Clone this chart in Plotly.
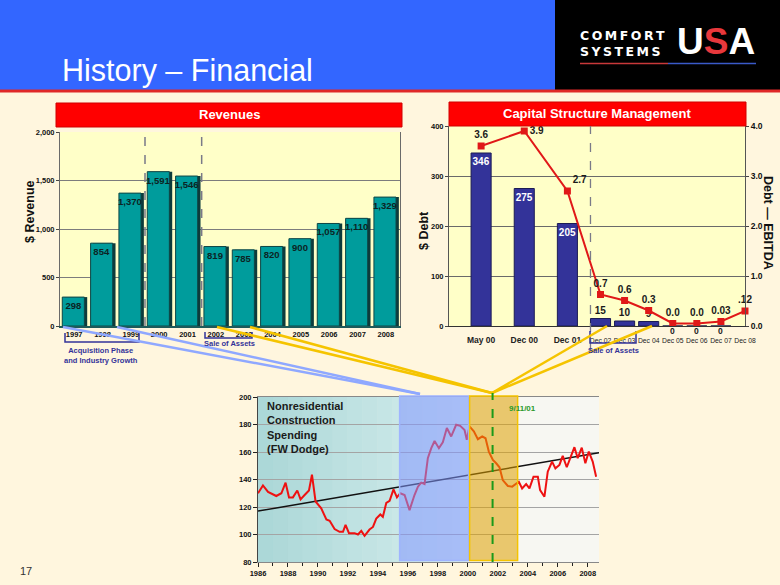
import plotly.graph_objects as go

W, H = 780, 585
def px(x): return x / W
def py(y): return 1 - y / H

FONT = "Liberation Sans, Arial, sans-serif"

# ---------------- data ----------------
rev_years = ['1997', '1998', '1999', '2000', '2001', '2002', '2003', '2004', '2005', '2006', '2007', '2008']
rev_values = [298, 854, 1370, 1591, 1546, 819, 785, 820, 900, 1057, 1110, 1329]

cap_periods = ['May 00', 'Dec 00', 'Dec 01', 'Dec 02', 'Dec 03', 'Dec 04', 'Dec 05', 'Dec 06', 'Dec 07', 'Dec 08']
debt_values = [346, 275, 205, 15, 10, 9, 0, 0, 0, None]
debt_ratio = [3.6, 3.9, 2.7, 0.63, 0.51, 0.31, 0.05, 0.05, 0.09, 0.30]
debt_ratio_labels = ['3.6', '3.9', '2.7', '0.7', '0.6', '0.3', '0.0', '0.0', '0.03', '.12']

cs_years = [1986.00, 1986.33, 1986.67, 1986.89, 1987.22, 1987.56, 1987.84, 1988.07, 1988.33, 1988.62,
            1988.84, 1989.11, 1989.40, 1989.60, 1989.84, 1990.22, 1990.56, 1990.78, 1991.11, 1991.44,
            1991.67, 1991.84, 1992.07, 1992.44, 1992.67, 1992.89, 1993.11, 1993.44, 1993.67, 1993.89,
            1994.16, 1994.33, 1994.56, 1994.78, 1995.04, 1995.27, 1995.49, 1995.78, 1996.11, 1996.44,
            1996.67, 1996.89, 1997.11, 1997.33, 1997.56, 1997.78, 1998.07, 1998.33, 1998.60, 1998.89,
            1999.22, 1999.49, 1999.78, 1999.93, 2000.11, 2000.40, 2000.67, 2000.96, 2001.18, 2001.40,
            2001.67, 2001.89, 2002.11, 2002.33, 2002.67, 2002.96, 2003.22, 2003.40, 2003.62, 2003.89,
            2004.11, 2004.38, 2004.67, 2004.82, 2005.11, 2005.33, 2005.62, 2005.84, 2006.11, 2006.33,
            2006.60, 2006.82, 2007.11, 2007.33, 2007.60, 2007.84, 2008.07, 2008.33, 2008.56]
cs_values = [130, 135.7, 131, 130, 128, 130, 137.7, 127, 127, 132,
             125.5, 128.7, 132, 143.5, 124, 119, 111, 110, 104, 102,
             102, 107, 101, 101, 100, 102.6, 99, 103.6, 105.5, 111.6,
             114.6, 112.9, 123, 124.5, 132.8, 127, 130, 128.7, 117.7, 128.7,
             134.8, 137.7, 136.7, 155.5, 162.8, 168, 162.8, 167, 177.4, 171.3,
             179.8, 179, 176, 168.8, 178.6, 175, 169.3, 171.3, 170, 160.3,
             154.2, 151.8, 148.9, 139.6, 135.3, 134.8, 137.2, 138.4, 133.5, 136.7,
             133.5, 142, 142, 132.3, 127.5, 145.7, 153, 148.1, 150.6, 157.2,
             148.9, 155.5, 163.5, 155.5, 163.2, 151.8, 160.3, 153, 142]
trend_years = [1986, 2008.75]
trend_values = [117, 159.5]

rev_ticks = [0, 500, 1000, 1500, 2000]
debt_ticks = [0, 100, 200, 300, 400]
ratio_ticks = [0, 1, 2, 3, 4]
cs_ticks = [80, 100, 120, 140, 160, 180, 200]
cs_year_ticks = list(range(1986, 2009, 2))

# ------------- layout helpers (category slots of the capital chart) -------------
slot_gaps = [43, 43, 33, 24, 24, 24, 24, 24, 24]
cap_x = [0]
for g in slot_gaps:
    cap_x.append(cap_x[-1] + g)
BARW = 20

fig = go.Figure()

# ---------------- Revenue chart ----------------
fig.add_trace(go.Bar(x=rev_years, y=rev_values, xaxis='x', yaxis='y',
                     width=0.8, offset=-0.34, marker=dict(color='#0d3b3b', line=dict(width=0)),
                     hoverinfo='skip', showlegend=False))
fig.add_trace(go.Bar(x=rev_years, y=rev_values, xaxis='x', yaxis='y',
                     width=0.78, offset=-0.42,
                     marker=dict(color='#009c9c', line=dict(color='#0e4646', width=1)),
                     texttemplate='%{y:,}', textposition='inside', insidetextanchor='end',
                     constraintext='none', textangle=0,
                     insidetextfont=dict(family=FONT, size=9.5, color='#0c2424', weight='bold'),
                     showlegend=False))

# ---------------- Capital structure chart ----------------
fig.add_trace(go.Bar(x=cap_x, y=debt_values, xaxis='x2', yaxis='y2', width=BARW,
                     marker=dict(color='#333399', line=dict(color='#1c1c55', width=1)),
                     texttemplate='%{y}',
                     textposition=['inside'] * 3 + ['outside'] * 3 + ['none'] * 4,
                     insidetextanchor='end', constraintext='none', textangle=0, cliponaxis=False,
                     insidetextfont=dict(family=FONT, size=10, color='white', weight='bold'),
                     outsidetextfont=dict(family=FONT, size=10, color='#1a1a1a', weight='bold'),
                     showlegend=False))
fig.add_trace(go.Scatter(x=cap_x, y=debt_ratio, xaxis='x2', yaxis='y3', mode='lines+markers+text',
                         line=dict(color='#e01818', width=2),
                         marker=dict(symbol='square', size=7, color='#e01818'),
                         text=debt_ratio_labels,
                         textposition=['top center', 'middle right', 'top right', 'top center', 'top center',
                                       'top center', 'top center', 'top center', 'top center', 'top center'],
                         textfont=dict(family=FONT, size=10, color='#1a1a1a', weight='bold'),
                         cliponaxis=False, showlegend=False))

# ---------------- Construction spending chart ----------------
fig.add_trace(go.Scatter(x=trend_years, y=trend_values, xaxis='x3', yaxis='y4', mode='lines',
                         line=dict(color='#111111', width=1.5), showlegend=False))
fig.add_trace(go.Scatter(x=cs_years, y=cs_values, xaxis='x3', yaxis='y4', mode='lines',
                         line=dict(color='#ee1111', width=2), showlegend=False))

shapes = []
ann = []

def note(text, x, y, size, color, xanchor='center', yanchor='middle', **kw):
    d = dict(text=text, xref='paper', yref='paper', x=px(x), y=py(y), xanchor=xanchor, yanchor=yanchor,
             showarrow=False, borderpad=0,
             font=dict(family=kw.pop('family', FONT), size=size, color=color,
                       weight=kw.pop('weight', 'bold')))
    d.update(kw)
    ann.append(d)

# header
shapes.append(dict(type='rect', xref='paper', yref='paper', x0=0, x1=px(555), y0=py(90), y1=1,
                   fillcolor='#3366ff', line=dict(width=0), layer='below'))
shapes.append(dict(type='rect', xref='paper', yref='paper', x0=px(555), x1=1, y0=py(90), y1=1,
                   fillcolor='#000000', line=dict(width=0), layer='below'))
shapes.append(dict(type='rect', xref='paper', yref='paper', x0=0, x1=1, y0=py(92.5), y1=py(89.5),
                   fillcolor='#e02828', line=dict(width=0)))
shapes.append(dict(type='line', xref='paper', yref='paper', x0=px(580), x1=px(668), y0=py(63.5), y1=py(63.5),
                   line=dict(color='#c8383a', width=1.5)))
shapes.append(dict(type='line', xref='paper', yref='paper', x0=px(668), x1=px(756), y0=py(63.5), y1=py(63.5),
                   line=dict(color='#3a5ac8', width=1.5)))

note('History – Financial', 61, 70, 30.5, 'white', xanchor='left', weight='normal')
TS = '\u2009'
note(TS.join('COMFORT') + '<br>' + TS.join('SYSTEMS'), 579, 44, 12.5, 'white', xanchor='left',
     align='left', family='DejaVu Sans')
note("U<span style='color:#e8383c'>S</span>A", 676, 42, 37, 'white', xanchor='left')

# banners
shapes.append(dict(type='rect', xref='paper', yref='paper', x0=px(56), x1=px(402), y0=py(127), y1=py(103),
                   fillcolor='#ff0000', line=dict(color='#d00000', width=1)))
note('Revenues', 229, 115, 13, 'white')
shapes.append(dict(type='rect', xref='paper', yref='paper', x0=px(449), x1=px(746), y0=py(126), y1=py(102),
                   fillcolor='#ff0000', line=dict(color='#d00000', width=1)))
note('Capital Structure Management', 597, 114, 13, 'white')

# revenue dashed separators
for xi in (2.5, 4.5):
    shapes.append(dict(type='line', xref='x', yref='paper', x0=xi, x1=xi, y0=py(326), y1=py(128),
                       line=dict(color='#7a7a88', width=1.5, dash='dash')))
# capital dashed separator
sep = cap_x[3] - BARW / 2
shapes.append(dict(type='line', xref='x2', yref='paper', x0=sep, x1=sep, y0=py(350), y1=py(126),
                   line=dict(color='#7a7a88', width=1.3, dash='dash')))

# axis titles
note('$ Revenue', 30, 212, 12.5, '#111', textangle=-90)
note('$ Debt', 424, 230, 12.5, '#111', textangle=-90)
note('Debt — EBITDA', 768, 223, 12.5, '#111', textangle=90)

# zero labels under the axis
for i in (6, 7, 8):
    ann.append(dict(text='0', xref='x2', yref='y2', x=cap_x[i], y=0, yshift=-4.5, xanchor='center',
                    yanchor='middle', showarrow=False, borderpad=0,
                    font=dict(family=FONT, size=8.5, color='#1a1a1a', weight='bold')))

# brackets and notes
NAVY = '#333399'
shapes.append(dict(type='path', xref='paper', yref='paper',
                   path=f'M {px(65)},{py(333)} L {px(65)},{py(342)} L {px(139)},{py(342)} L {px(139)},{py(333)}',
                   line=dict(color=NAVY, width=1.5)))
note('Acquisition Phase<br>and Industry Growth', 101, 356, 7.5, NAVY)
shapes.append(dict(type='path', xref='paper', yref='paper',
                   path=f'M {px(205)},{py(332)} L {px(205)},{py(338)} L {px(252)},{py(338)} L {px(252)},{py(332)}',
                   line=dict(color=NAVY, width=1.5)))
note('Sale of Assets', 229, 343.5, 7.5, NAVY)
shapes.append(dict(type='path', xref='paper', yref='paper',
                   path=f'M {px(590)},{py(331)} L {px(590)},{py(343)} L {px(636)},{py(343)} L {px(636)},{py(331)}',
                   line=dict(color=NAVY, width=1.5)))
note('Sale of Assets', 613, 350.5, 7.5, NAVY)

# connector lines
BLUE_C = '#8fa8ff'
YEL_C = '#f5c400'
for (a, b) in [((63, 327), (420, 394)), ((117, 327), (420, 394))]:
    shapes.append(dict(type='line', xref='paper', yref='paper', x0=px(a[0]), y0=py(a[1]), x1=px(b[0]), y1=py(b[1]),
                       line=dict(color=BLUE_C, width=2.5)))
for (a, b) in [((217, 327), (492, 393)), ((250, 327), (492, 393)),
               ((607, 326), (492, 393)), ((652, 326), (492, 393))]:
    shapes.append(dict(type='line', xref='paper', yref='paper', x0=px(a[0]), y0=py(a[1]), x1=px(b[0]), y1=py(b[1]),
                       line=dict(color=YEL_C, width=2.5)))

# bottom chart background
shapes.append(dict(type='rect', xref='x3', yref='y4', x0=1986, x1=2008.75, y0=80, y1=200,
                   fillcolor='#f7f7f2', line=dict(width=0), layer='below'))
c0 = (172, 216, 216)
c1 = (214, 238, 238)
nstep = 14
for k in range(nstep):
    t = k / (nstep - 1)
    col = tuple(int(c0[j] + (c1[j] - c0[j]) * t) for j in range(3))
    x0 = 1986 + k * 1.0
    x1 = min(x0 + 1.0, 2000.05)
    shapes.append(dict(type='rect', xref='x3', yref='y4', x0=x0, x1=x1, y0=80, y1=200,
                       fillcolor='rgb(%d,%d,%d)' % col, line=dict(width=0), layer='below'))

# highlight boxes (drawn above the line to tint it)
shapes.append(dict(type='rect', xref='x3', yref='paper', x0=1995.45, x1=2000.05, y0=py(560.5), y1=py(396),
                   fillcolor='rgba(130,150,255,0.55)', line=dict(color='#9fb4ff', width=1.5), layer='above'))
shapes.append(dict(type='rect', xref='x3', yref='paper', x0=2000.12, x1=2003.32, y0=py(560.5), y1=py(396),
                   fillcolor='rgba(222,160,0,0.55)', line=dict(color='#f5c400', width=1.5), layer='above'))
shapes.append(dict(type='line', xref='x3', yref='paper', x0=2001.65, x1=2001.65, y0=py(562), y1=py(393),
                   line=dict(color='#1a9a1a', width=2, dash='dash'), layer='above'))

note('Nonresidential<br>Construction<br>Spending<br>(FW Dodge)', 266, 399, 11, '#1a1a1a',
     xanchor='left', yanchor='top', align='left')
note('9/11/01', 522, 408, 8, '#2a9a2a')
note('17', 26, 571, 11, '#333333', weight='normal')

tickf = dict(family=FONT, size=7.5, color='#111', weight='bold')
cap_ticktext = ["<b><span style='font-size:8.5px'>%s</span></b>" % p if i < 3 else p
                for i, p in enumerate(cap_periods)]

fig.update_layout(
    width=W, height=H, autosize=False,
    margin=dict(l=0, r=0, t=0, b=0, autoexpand=False),
    paper_bgcolor='#fff6de', plot_bgcolor='#ffffc8',
    barmode='overlay', showlegend=False,
    font=dict(family=FONT),
    xaxis=dict(domain=[px(60), px(400)], anchor='y', type='category', tickfont=tickf,
               showline=True, linecolor='#1d5a5a', linewidth=1.5, mirror=False, ticks='', showgrid=False,
               range=[-0.5, 11.5], automargin=False),
    yaxis=dict(domain=[py(326), py(132)], anchor='x', range=[0, 2000], tickvals=rev_ticks, tickformat=',',
               tickfont=tickf, showgrid=True, gridcolor='#7c7c7c', gridwidth=1, showline=True,
               linecolor='#6a6a6a', mirror=True, ticks='outside', ticklen=3, tickcolor='#444', zeroline=False,
               automargin=False),
    xaxis2=dict(domain=[px(449), px(745)], anchor='y2', range=[-32, cap_x[-1]], tickvals=cap_x,
                ticktext=cap_ticktext, tickfont=dict(family=FONT, size=6.8, color='#222'), showgrid=False,
                showline=True, linecolor='#333', linewidth=1, ticks='', zeroline=False, tickangle=0,
                ticklabelstandoff=8, automargin=False),
    yaxis2=dict(domain=[py(326), py(126)], anchor='x2', range=[0, 400], tickvals=debt_ticks,
                tickfont=tickf, showgrid=True, gridcolor='#6a6a6a', showline=True, linecolor='#555',
                mirror=True, ticks='outside', ticklen=3, tickcolor='#444', zeroline=False, automargin=False),
    yaxis3=dict(overlaying='y2', anchor='x2', side='right', range=[0, 4], tickvals=ratio_ticks,
                tickformat='.1f', tickfont=dict(family=FONT, size=8.5, color='#111', weight='bold'),
                showgrid=False, ticks='outside', ticklen=3, tickcolor='#444', zeroline=False, automargin=False),
    xaxis3=dict(domain=[px(258), px(599)], anchor='y4', range=[1986, 2008.75], tickvals=cs_year_ticks,
                tickfont=tickf, showgrid=False, showline=True, linecolor='#888', mirror=True,
                ticks='outside', ticklen=4, tickcolor='#222',
                minor=dict(dtick=1, tick0=1986, ticks='outside', ticklen=3, tickcolor='#222', showgrid=False),
                zeroline=False, automargin=False),
    yaxis4=dict(domain=[py(562), py(397)], anchor='x3', range=[80, 200], tickvals=cs_ticks,
                tickfont=tickf, showgrid=True, gridcolor='#a4a4a4', showline=True, linecolor='#444',
                mirror=False, ticks='outside', ticklen=4, tickcolor='#222', zeroline=False, automargin=False),
    shapes=shapes, annotations=ann,
)

fig.write_html('out.html', config={'displayModeBar': False},
               post_script="document.body.style.margin='0px';document.body.style.overflow='hidden';")
